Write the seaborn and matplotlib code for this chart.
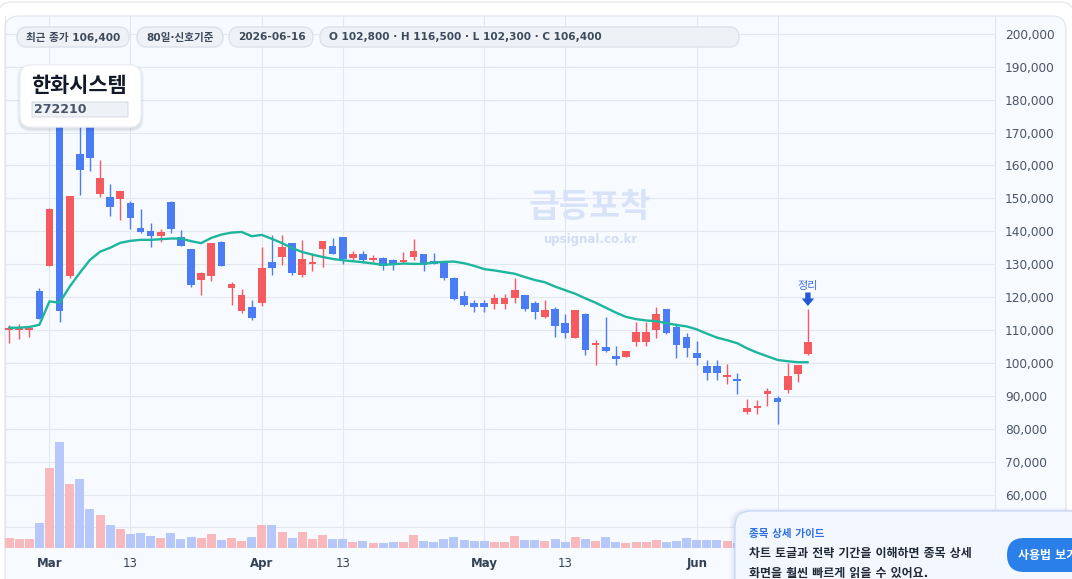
import matplotlib
matplotlib.use('Agg')
import matplotlib.pyplot as plt
import matplotlib.patches as mpatches
import matplotlib.transforms as mtransforms
import numpy as np
import pandas as pd
import seaborn as sns

W, H = 1072, 579

# ---- 데이터 (80 거래일) ----
opens = [110000, 110000, 110000, 121900, 129500, 178000, 126500, 163500, 175000, 151400,
         150400, 149900, 148600, 141000, 140100, 138700, 148900, 138300, 134600, 125300,
         126500, 136700, 122900, 115900, 117000, 118300, 130700, 132300, 136400, 126800,
         130200, 134700, 135500, 138300, 132000, 133100, 131400, 131900, 131300, 130800,
         132300, 133100, 131000, 130700, 125800, 120300, 118200, 118200, 118000, 118000,
         119800, 120600, 118200, 114000, 116400, 112100, 107700, 114900, 105500, 104800,
         102100, 101900, 106400, 106400, 110100, 116400, 110900, 107900, 103000, 99000,
         99000, 95800, 95100, 85100, 86400, 90600, 89300, 91800, 96700, 102800]
highs = [111500, 111800, 110600, 122900, 147200, 181000, 150700, 174000, 176000, 161700,
         154400, 152200, 149200, 146800, 142500, 140700, 149200, 140400, 134600, 127600,
         136400, 137000, 124700, 122600, 119100, 135200, 138900, 138900, 136400, 137400,
         133400, 137100, 138000, 138300, 134000, 134000, 132800, 132200, 131600, 133700,
         137700, 133100, 133400, 131000, 126100, 121900, 119100, 119100, 120900, 120900,
         125800, 120600, 118800, 119100, 117000, 114900, 116100, 115200, 107000, 113900,
         105100, 103600, 112400, 112400, 117000, 116400, 112100, 109100, 106700, 100900,
         100900, 99700, 96900, 89000, 88700, 92400, 89900, 100000, 99400, 116500]
lows = [106100, 107300, 107900, 113300, 129500, 112500, 125800, 151000, 158400, 150500,
        144700, 143500, 140800, 139400, 135300, 136800, 139400, 135600, 123200, 120700,
        125000, 129500, 117700, 115300, 113100, 117400, 126800, 129800, 126800, 126200,
        128000, 129200, 133200, 130200, 131100, 130500, 130800, 128300, 128300, 130500,
        131400, 128000, 130200, 125300, 119200, 117400, 115600, 115600, 116500, 116500,
        118300, 115900, 113400, 113700, 108000, 107700, 107700, 102500, 99500, 103400,
        99500, 101900, 105200, 105200, 107700, 108900, 101600, 101900, 99500, 94900,
        94900, 93700, 90600, 84500, 84500, 86900, 81400, 90900, 94300, 102300]
closes = [110600, 110600, 110600, 113300, 146800, 115900, 150700, 158700, 162400, 156200,
          147500, 152200, 144100, 139900, 138700, 139800, 140800, 135600, 123800, 127300,
          136400, 129500, 124000, 120700, 113700, 128800, 128900, 135200, 127400, 131600,
          130700, 137100, 133200, 131700, 133100, 131400, 131900, 129500, 130200, 131300,
          134000, 129900, 130200, 125900, 119500, 117700, 117100, 117100, 119700, 119700,
          122200, 116500, 115600, 116100, 111300, 109200, 116100, 104000, 106000, 103700,
          101300, 103600, 109400, 109400, 114900, 109200, 105500, 104600, 101600, 97000,
          97000, 96000, 94400, 86300, 86600, 91500, 88200, 96000, 99400, 106400]
# 거래량 (천주)
volumes = [100, 90, 90, 247, 800, 1057, 640, 687, 387, 327,
           227, 187, 137, 147, 117, 97, 147, 87, 107, 97,
           137, 77, 97, 67, 107, 227, 227, 157, 97, 157,
           87, 127, 87, 87, 57, 67, 47, 47, 57, 57,
           127, 67, 57, 87, 107, 77, 67, 67, 57, 57,
           117, 77, 77, 67, 87, 57, 107, 87, 67, 107,
           57, 47, 57, 57, 77, 57, 67, 97, 77, 77,
           77, 67, 50, 90, 70, 80, 120, 140, 100, 130]
# 이동평균선
ma_line = [110700, 110700, 110900, 111600, 118700, 118300, 123200, 127400, 131300, 133800,
           135000, 136500, 137100, 137400, 137400, 137600, 137800, 137800, 137000, 136400,
           138000, 139000, 139600, 139800, 138500, 138900, 137700, 136400, 134900, 133700,
           132900, 132200, 131600, 131200, 130900, 130600, 130200, 129800, 130000, 130200,
           130100, 130100, 130500, 130700, 130800, 130300, 129500, 128500, 128100, 127600,
           127100, 126100, 125200, 124500, 123200, 122100, 121000, 119600, 118300, 116800,
           115300, 114000, 113300, 112900, 112700, 112100, 111500, 111100, 110200, 108900,
           107700, 106900, 106000, 104400, 103100, 102000, 100900, 100500, 100200, 100200]

# 50,000 눈금과 마지막 "13"은 팝업에 가려져서 라벨 없음
y_ticks = list(range(50000, 200001, 10000))
y_labels = [''] + [f'{v:,}' for v in range(60000, 200001, 10000)]
x_tick_pos = [4, 12, 25, 33, 47, 55, 68, 76]
x_tick_labels = ['Mar', '13', 'Apr', '13', 'May', '13', 'Jun', '']
month_labels = ['Mar', 'Apr', 'May', 'Jun']

pill_texts = ['최근 종가 106,400', '80일·신호기준', '2026-06-16',
              'O 102,800 · H 116,500 · L 102,300 · C 106,400']
pill_boxes = [(17, 129), (137, 223), (229, 313), (320, 739)]

UP = '#f65a5f'
DOWN = '#4a7cf6'
UP_VOL = '#f8b8bc'
DOWN_VOL = '#b6c8f9'

sns.set_theme(style='white')
plt.rcParams['font.family'] = ['DejaVu Sans', 'Noto Sans CJK KR']

fig = plt.figure(figsize=(W / 100, H / 100), dpi=100)
fig.patch.set_facecolor('white')

# 픽셀 좌표 (왼쪽 위 기준)
px = mtransforms.Affine2D().scale(1, -1).translate(0, H)


def rbox(x0, y0, x1, y1, r, fc, ec, lw=1.0, z=0, alpha=1.0):
    p = mpatches.FancyBboxPatch((x0, y0), x1 - x0, y1 - y0,
                                boxstyle=f'round,pad=0,rounding_size={r}',
                                facecolor=fc, edgecolor=ec, linewidth=lw,
                                transform=px, zorder=z, alpha=alpha)
    fig.patches.append(p)
    return p


# 바깥 카드와 차트 패널
rbox(-2, 2, 1074, 640, 14, 'white', '#e6e9ef', z=-3)
rbox(5, 16, 1066, 620, 14, '#f7faff', '#e3e8ef', z=-2)

df = pd.DataFrame({'idx': np.arange(len(closes)), 'open': opens, 'high': highs,
                   'low': lows, 'close': closes, 'vol': volumes, 'ma': ma_line})
df['dir'] = np.where(df['close'] >= df['open'], 'up', 'down')

rect = [5 / W, 1 - 548 / H, 990 / W, 532 / H]
ax = fig.add_axes(rect)
ax_vol = fig.add_axes(rect, sharex=ax)
ax.patch.set_alpha(0)
ax_vol.patch.set_alpha(0)

# --- 거래량 ---
sns.barplot(data=df, x='idx', y='vol', hue='dir', palette={'up': UP_VOL, 'down': DOWN_VOL},
            native_scale=True, dodge=False, width=0.89, errorbar=None, legend=False,
            saturation=1, linewidth=0, ax=ax_vol)
ax_vol.set_ylim(0, 5320)
ax_vol.set_xlabel('')
ax_vol.set_ylabel('')
ax_vol.set_yticks([])
ax_vol.tick_params(axis='x', labelbottom=False, length=0)
for s in ax_vol.spines.values():
    s.set_visible(False)

# --- 캔들 ---
cols = np.where(df['dir'] == 'up', UP, DOWN)
ax.vlines(df['idx'], df['low'], df['high'], colors=cols, linewidth=1.0, zorder=3)
body_lo = np.minimum(df['open'], df['close'])
body_h = np.maximum(np.abs(df['close'] - df['open']), 500)
ax.bar(df['idx'], body_h, bottom=body_lo, width=0.76, color=cols, linewidth=0, zorder=4)

sns.lineplot(data=df, x='idx', y='ma', ax=ax, color='#1cb59e', linewidth=1.7, zorder=5)

ax.set_xlim(-0.4, 97.5)
ax.set_ylim(43740, 205440)
ax.set_xlabel('')
ax.set_ylabel('')
ax.set_yticks(y_ticks)
ax.set_yticklabels(y_labels, fontsize=8.7, color='#4a5568')
ax.yaxis.tick_right()
ax.tick_params(axis='y', length=0, pad=7.2)
ax.set_xticks(x_tick_pos)
ax.set_xticklabels(x_tick_labels, fontsize=8.5, color='#334155')
ax.tick_params(axis='x', length=0, pad=6.5)
for lab in ax.get_xticklabels():
    if lab.get_text() in month_labels:
        lab.set_fontweight('bold')
ax.grid(True, color='#e3e7ee', linewidth=0.8)
ax.set_axisbelow(True)
for name, s in ax.spines.items():
    s.set_visible(name in ('right', 'left'))
    s.set_color('#e3e8ef')
    s.set_linewidth(1.0)

# 신호 표시
ax.annotate('', xy=(79, 117300), xytext=(79, 121400),
            arrowprops=dict(arrowstyle='simple,head_width=0.75,head_length=0.45,tail_width=0.32',
                            color='#2457d6', lw=0, shrinkA=0, shrinkB=0), zorder=6)
ax.text(79, 123300, '정리', ha='center', va='center', fontsize=8, color='#3d6fe0', zorder=6)

# 워터마크
fig.text(590, 208, '급등포착', transform=px, ha='center', va='center', fontsize=24,
         fontweight='bold', color='#d8e2f8', zorder=1)
fig.text(590, 240, 'upsignal.co.kr', transform=px, ha='center', va='center', fontsize=8.5,
         fontweight='bold', color='#d2dcf5', zorder=1)

# 상단 정보 알약
for (x0, x1), t in zip(pill_boxes, pill_texts):
    rbox(x0, 27, x1, 47, 10, '#eef2f7', '#dce2ea', z=6)
    fig.text(x0 + 9, 37.5, t, transform=px, ha='left', va='center', fontsize=7.6,
             fontweight='bold', color='#3d4a5c', zorder=7)

# 종목명 박스
for k, a in enumerate([0.05, 0.04, 0.03]):
    rbox(20 - 1 - k, 65 + 1 - k, 141 + 1 + k, 127 + 3 + k, 12 + k, '#1e293b', 'none',
         lw=0, z=6, alpha=a)
rbox(20, 65, 141, 127, 12, 'white', '#eef1f5', z=7)
fig.text(31, 86, '한화시스템', transform=px, ha='left', va='center', fontsize=15,
         fontweight='bold', color='#111827', zorder=8)
rbox(32, 102, 128, 117, 0, '#eef1f5', '#d8dde5', lw=0.8, z=8)
fig.text(34, 109.5, '272210', transform=px, ha='left', va='center', fontsize=9,
         fontweight='bold', color='#475569', zorder=9)

# 하단 안내 팝업
for k, a in enumerate([0.05, 0.035, 0.02]):
    rbox(735 - 2 - 2 * k, 511 - 1 - k, 1100, 640, 16 + k, '#1e3a8a', 'none', lw=0,
         z=8, alpha=a)
rbox(735, 511, 1100, 640, 16, '#f3f7ff', '#cbdaf5', z=9)
fig.text(749, 534, '종목 상세 가이드', transform=px, ha='left', va='center', fontsize=7.6,
         fontweight='bold', color='#2f6fe4', zorder=10)
fig.text(749, 553, '차트 토글과 전략 기간을 이해하면 종목 상세', transform=px, ha='left',
         va='center', fontsize=8.6, fontweight='bold', color='#1f2937', zorder=10)
fig.text(749, 573, '화면을 훨씬 빠르게 읽을 수 있어요.', transform=px, ha='left',
         va='center', fontsize=8.6, fontweight='bold', color='#1f2937', zorder=10)
rbox(1007, 538, 1100, 572, 17, '#2b7fe9', 'none', lw=0, z=10)
fig.text(1018, 555, '사용법 보기', transform=px, ha='left', va='center', fontsize=8.6,
         fontweight='bold', color='white', zorder=11)

fig.savefig('out.png', dpi=100, facecolor='white')
